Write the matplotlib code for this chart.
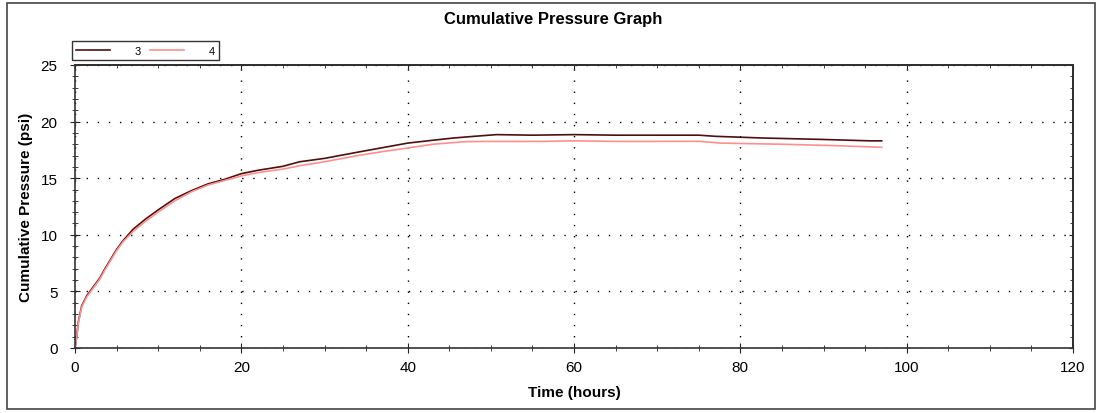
import matplotlib.pyplot as plt
from matplotlib.ticker import MultipleLocator, NullFormatter
from matplotlib.patches import Rectangle

# --- Data ---
t3 = [0, 0.2, 0.4, 0.8, 1.4, 2, 3, 3.6, 5, 5.8, 7, 8.5, 10, 12, 14, 16, 18, 20, 22, 25, 27,
      30, 34, 37, 40, 43, 45.5, 48, 50.7, 55, 60, 65, 70, 75, 77, 82.7, 89.6, 95.6, 97]
p3 = [0, 1.0, 2.3, 3.7, 4.6, 5.2, 6.2, 7.0, 8.7, 9.5, 10.5, 11.4, 12.2, 13.2, 13.9, 14.5, 14.9,
      15.4, 15.7, 16.05, 16.45, 16.75, 17.3, 17.7, 18.1, 18.35, 18.55, 18.7, 18.85, 18.8, 18.85,
      18.8, 18.8, 18.8, 18.7, 18.55, 18.43, 18.3, 18.3]

t4 = [0, 0.2, 0.4, 0.8, 1.4, 2, 3, 3.6, 5, 5.8, 7, 8.5, 10, 12, 14, 16, 18, 20, 22, 25, 27,
      30, 34, 37, 40, 43, 47, 50, 56, 60, 65, 70, 75, 77.7, 85, 91.7, 97]
p4 = [0, 0.9, 2.2, 3.6, 4.5, 5.1, 6.1, 6.9, 8.6, 9.4, 10.3, 11.2, 12.0, 13.0, 13.8, 14.4, 14.8,
      15.2, 15.5, 15.8, 16.1, 16.45, 17.0, 17.35, 17.67, 18.0, 18.23, 18.25, 18.25, 18.3, 18.25,
      18.25, 18.26, 18.1, 18.0, 17.87, 17.73]

series_names = ["3", "4"]
colors = ["#4f0f0f", "#ff8f8f"]

plt.rcParams['font.family'] = ['Liberation Sans', 'DejaVu Sans']

fig = plt.figure(figsize=(11.02, 4.14), dpi=100)
ax = fig.add_axes([75 / 1102, 1 - 349 / 414, (1073 - 75) / 1102, (349 - 66) / 414])

ax.plot(t3, p3, color=colors[0], lw=1.2, label=series_names[0])
ax.plot(t4, p4, color=colors[1], lw=1.2, label=series_names[1])

ax.set_xlim(0, 120)
ax.set_ylim(0, 25)
ax.xaxis.set_major_locator(MultipleLocator(20))
ax.xaxis.set_minor_locator(MultipleLocator(5))
ax.yaxis.set_major_locator(MultipleLocator(5))
ax.yaxis.set_minor_locator(MultipleLocator(1))

ax.grid(True, which='major', color='black', linestyle=(0, (1, 7)), linewidth=1)
for s in ax.spines.values():
    s.set_linewidth(1.2)
    s.set_color('#333333')

# bottom / left: ticks crossing the axis
ax.tick_params(which='both', direction='inout', labelsize=11, color='#222222')
ax.tick_params(which='major', length=7)
ax.tick_params(which='minor', length=5)
ax.tick_params(axis='x', pad=5)
ax.tick_params(axis='y', pad=9)

# top / right: short inward ticks only
sec_x = ax.secondary_xaxis('top')
sec_x.xaxis.set_major_locator(MultipleLocator(20))
sec_x.xaxis.set_minor_locator(MultipleLocator(5))
sec_x.xaxis.set_major_formatter(NullFormatter())
sec_x.tick_params(which='both', direction='in', color='#222222')
sec_x.tick_params(which='major', length=3)
sec_x.tick_params(which='minor', length=2)
sec_x.spines['top'].set_linewidth(1.2)

sec_y = ax.secondary_yaxis('right')
sec_y.yaxis.set_major_locator(MultipleLocator(5))
sec_y.yaxis.set_minor_locator(MultipleLocator(1))
sec_y.yaxis.set_major_formatter(NullFormatter())
sec_y.tick_params(which='both', direction='in', color='#222222')
sec_y.tick_params(which='major', length=3)
sec_y.tick_params(which='minor', length=2)
sec_y.spines['right'].set_linewidth(1.2)

ax.set_xlabel("Time (hours)", fontsize=11, fontweight='bold', va='center')
ax.set_ylabel("Cumulative Pressure (psi)", fontsize=11, fontweight='bold', va='center')
ax.xaxis.set_label_coords((574 - 75) / 998, (349 - 393) / 283)
ax.yaxis.set_label_coords((26 - 75) / 998, 0.5)
fig.text(0.502, 0.952, "Cumulative Pressure Graph", ha='center', va='center',
         fontsize=12, fontweight='bold')

leg = ax.legend(ncol=2, loc='lower left', bbox_to_anchor=(-0.008, 1.0), fontsize=8,
                frameon=True, fancybox=False, handlelength=3.0, handletextpad=2.2,
                columnspacing=0.9, borderpad=0.4, borderaxespad=0.45)
leg.get_frame().set_edgecolor('black')
leg.get_frame().set_linewidth(1.0)

fig.patches.append(Rectangle((7 / 1102, 4 / 414), 1088 / 1102, 406 / 414, transform=fig.transFigure,
                             fill=False, edgecolor='#444444', linewidth=1.2))

fig.savefig("out.png", dpi=100)
